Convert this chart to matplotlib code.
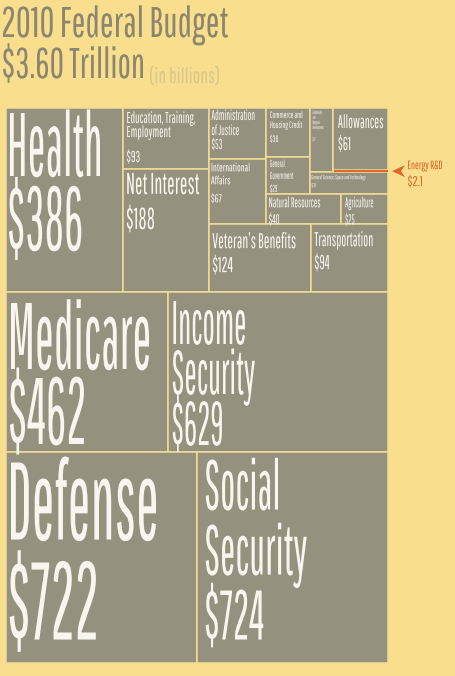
import matplotlib
matplotlib.use("Agg")
import matplotlib.pyplot as plt
from matplotlib.patches import Rectangle, Polygon
from matplotlib.patheffects import AbstractPathEffect
from matplotlib.transforms import Affine2D, Bbox
from matplotlib.font_manager import FontProperties
from matplotlib.textpath import TextPath
from matplotlib.text import Text

# ---------------- data (billions of dollars) ----------------
categories = ["Health", "Education, Training, Employment", "Net Interest",
              "Administration of Justice", "International Affairs",
              "Commerce and Housing Credit", "General Government",
              "Community and Regional Development", "Allowances", "Energy R&D",
              "General Science, Space and Technology", "Natural Resources",
              "Agriculture", "Veteran\u2019s Benefits", "Transportation",
              "Medicare", "Income Security", "Defense", "Social Security"]
values = [386, 93, 188, 53, 67, 38, 29, 27, 61, 2.1, 31, 40, 25, 124, 94,
          462, 629, 722, 724]
title_lines = ["2010 Federal Budget", "$3.60 Trillion"]
unit_note = "(in billions)"

VAL = dict(zip(categories, values))

# nested slice-and-dice structure ('h' = side by side, 'v' = stacked)
tree = ("v", [
    ("h", ["Health",
           ("v", ["Education, Training, Employment", "Net Interest"]),
           ("v", [
               ("h", [("v", ["Administration of Justice", "International Affairs"]),
                      ("v", [
                          ("h", [("v", ["Commerce and Housing Credit", "General Government"]),
                                 ("v", [("h", ["Community and Regional Development",
                                               ("v", ["Allowances", "Energy R&D"])]),
                                        "General Science, Space and Technology"])]),
                          ("h", ["Natural Resources", "Agriculture"])])]),
               ("h", ["Veteran\u2019s Benefits", "Transportation"])])]),
    ("h", ["Medicare", "Income Security"]),
    ("h", ["Defense", "Social Security"]),
])

# ---------------- style ----------------
DPI = 100
W, H = 455, 676
BG = "#F9DF8D"
BOX = "#95917F"
EDGE = "#F4DC94"
WHITE = "#F8F6EF"
TITLE_C = "#8A866F"
NOTE_C = "#D8C78C"
ORANGE = "#E0662A"
FAMILY = ["Pathway Gothic One", "Liberation Sans Narrow", "DejaVu Sans"]
AREA = (6, 108, 382, 555)  # x, y, width, height of the treemap in pixels


def total(node):
    if isinstance(node, str):
        return VAL[node]
    return sum(total(c) for c in node[1])


def layout(node, x, y, w, h, out):
    if isinstance(node, str):
        out[node] = (x, y, w, h)
        return
    d, kids = node
    s = total(node)
    pos = 0.0
    for k in kids:
        f = total(k) / s
        if d == "h":
            layout(k, x + pos, y, w * f, h, out)
            pos += w * f
        else:
            layout(k, x, y + pos, w, h * f, out)
            pos += h * f


class Condense(AbstractPathEffect):
    """Draw the text path narrower, anchored at the line's origin."""
    def __init__(self, sx):
        super().__init__()
        self.sx = sx

    def draw_path(self, renderer, gc, tpath, affine, rgbFace=None):
        renderer.draw_path(gc, tpath, Affine2D().scale(self.sx, 1.0) + affine, rgbFace)


class CondensedText(Text):
    """Single-line, left/baseline anchored text drawn horizontally condensed.
    Its window extent reports the ink box that is actually drawn."""
    def __init__(self, *args, sx=1.0, ink=None, **kwargs):
        super().__init__(*args, **kwargs)
        self._sx = sx
        self._ink = ink
        self.set_path_effects([Condense(sx)])

    def get_window_extent(self, renderer=None, dpi=None):
        bb = super().get_window_extent(renderer, dpi)
        if self._ink is None:
            return Bbox.from_extents(bb.x0, bb.y0, bb.x0 + (bb.x1 - bb.x0) * self._sx, bb.y1)
        X, Y = self.get_transform().transform(self.get_unitless_position())
        x0, y0, x1, y1 = self._ink
        return Bbox.from_extents(X + x0 * self._sx, Y + y0, X + x1 * self._sx, Y + y1)


fig = plt.figure(figsize=(W / DPI, H / DPI), dpi=DPI)
fig.patch.set_facecolor(BG)
ax = fig.add_axes([0, 0, 1, 1])
ax.set_xlim(0, W)
ax.set_ylim(H, 0)
ax.axis("off")


def draw_lines(x, y_top, lines, cap, bases, target_w, ref=0, color=WHITE):
    fp = FontProperties(family=FAMILY)
    hr = TextPath((0, 0), "H", size=100, prop=fp).get_extents().height / 100.0
    fs_px = cap / hr
    ext = TextPath((0, 0), lines[ref], size=fs_px, prop=fp).get_extents()
    sx = target_w / ext.width
    x0 = x - ext.x0 * sx
    fp2 = fp.copy()
    fp2.set_size(fs_px * 72.0 / DPI)
    for s, b in zip(lines, bases):
        e = TextPath((0, 0), s, size=fs_px, prop=fp).get_extents()
        t = CondensedText(x0, y_top + b, s, fontproperties=fp2, color=color,
                          ha="left", va="baseline", parse_math=False, sx=sx,
                          ink=(e.x0, e.y0, e.x1, e.y1), zorder=5)
        ax.add_artist(t)


rects = {}
layout(tree, *AREA, rects)

for name in categories:
    if name == "Energy R&D":
        continue
    x, y, w, h = rects[name]
    ax.add_patch(Rectangle((x, y), w, h, facecolor=BOX, edgecolor=EDGE, lw=1.1, zorder=2))

# energy band (tiny slice) in orange
ex, ey, ew, eh = rects["Energy R&D"]
ax.add_patch(Rectangle((ex + 0.5, ey), ew - 1, max(eh, 2.2), facecolor=ORANGE,
                       edgecolor="none", zorder=3))


def money(v):
    return "$" + f"{v:g}"


# label styles: name lines, cap height, baseline offsets from box top, left pad, width of ref line
labels = {
    "Health": (["Health"], 63, [68, 142], 4, 90, 0),
    "Medicare": (["Medicare"], 66, [77, 152], 5, 138, 0),
    "Income Security": (["Income", "Security"], 43, [52, 102, 153], 5, 82, 1),
    "Defense": (["Defense"], 77, [88, 188], 5, 145, 0),
    "Social Security": (["Social", "Security"], 49, [58, 123, 188], 9, 101, 1),
    "Net Interest": (["Net Interest"], 21, [25, 60], 4, 72, 0),
    "Education, Training, Employment": (["Education, Training,", "Employment"], 11, [15, 29, 54], 4, 68, 0),
    "Administration of Justice": (["Administration", "of Justice"], 10, [12, 27, 41], 3, 43, 0),
    "International Affairs": (["International", "Affairs"], 8, [12, 25, 43], 3, 38, 0),
    "Commerce and Housing Credit": (["Commerce and", "Housing Credit"], 6.5, [10, 20, 34], 4, 32, 1),
    "General Government": (["General", "Government"], 7, [10, 22, 35], 4, 23, 1),
    "Community and Regional Development": (["Community", "and", "Regional", "Development"], 3.5,
                                           [6, 11, 16, 21, 33], 3, 11, 3),
    "Allowances": (["Allowances"], 13, [20, 42], 5, 45, 0),
    "General Science, Space and Technology": (["General Science, Space and Technology"], 4,
                                              [7, 15], 2, 54, 0),
    "Natural Resources": (["Natural Resources"], 10, [13, 30], 3, 51, 0),
    "Agriculture": (["Agriculture"], 10, [13, 30], 4, 28, 0),
    "Veteran\u2019s Benefits": (["Veteran\u2019s Benefits"], 15, [24, 48], 4, 83, 0),
    "Transportation": (["Transportation"], 14, [22, 45], 4, 58, 0),
}

for name, (parts, cap, bases, pad, tw, ref) in labels.items():
    x, y, w, h = rects[name]
    draw_lines(x + pad, y, parts + [money(VAL[name])], cap, bases, tw, ref)

# Energy R&D callout
cy = ey + eh / 2
tip = ex + ew + 4
ax.add_patch(Polygon([(tip, cy), (tip + 13, cy - 6), (tip + 9, cy), (tip + 13, cy + 6)],
                     closed=True, facecolor=ORANGE, edgecolor="none", zorder=4))
draw_lines(ex + ew + 20, cy, ["Energy R&D"], 8.5, [-2], 34, color=ORANGE)
draw_lines(ex + ew + 20, cy, [money(VAL["Energy R&D"])], 10, [15], 14, color=ORANGE)

# title
draw_lines(3, 0, [title_lines[0]], 30, [37], 225, 0, color=TITLE_C)
draw_lines(3, 0, [title_lines[1]], 30, [78], 140, 0, color=TITLE_C)
draw_lines(150, 0, [unit_note], 15, [83], 69, 0, color=NOTE_C)

fig.savefig("out.png", dpi=DPI, facecolor=BG)
